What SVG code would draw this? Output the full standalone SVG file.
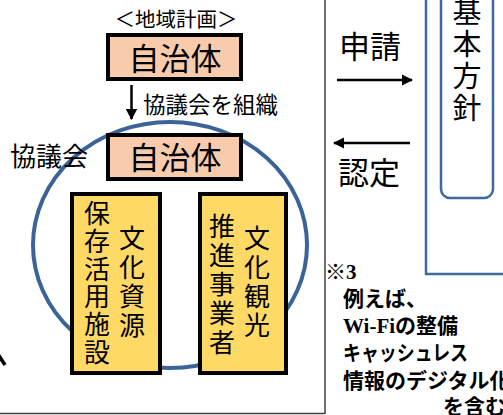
<svg xmlns="http://www.w3.org/2000/svg" width="503" height="415" viewBox="0 0 503 415">
<defs>
<marker id="ah" viewBox="0 0 10 10" refX="9" refY="5" markerWidth="4.5" markerHeight="4.5" orient="auto" markerUnits="strokeWidth">
<path d="M0,0 L10,5 L0,10 z" fill="#000"/>
</marker>
<style>
.jp{font-family:"Noto Sans CJK JP","Noto Sans",sans-serif;fill:#000}
.peach{fill:#F8CBAD;stroke:#000;stroke-width:4}
.yel{fill:#FFD966;stroke:#000;stroke-width:4}
.note{font-family:"Liberation Serif","Noto Sans CJK JP",serif;font-weight:bold;font-size:21px;fill:#000}
.conn{stroke:#000;stroke-width:2.5;fill:none}
</style>
</defs>
<rect width="503" height="415" fill="#fff"/>
<!-- panel borders -->
<line x1="325" y1="0" x2="325" y2="414" stroke="#404040" stroke-width="1.5"/>
<line x1="0" y1="413.5" x2="325" y2="413.5" stroke="#404040" stroke-width="1.5"/>
<!-- council circle -->
<g id="council">
<ellipse cx="170" cy="245" rx="137" ry="123" fill="none" stroke="#3A6397" stroke-width="4"/>
<text class="jp" x="49" y="166" font-size="26" text-anchor="middle">協議会</text>
</g>
<g id="header">
<text class="jp" x="176" y="27" font-size="20.5" text-anchor="middle">＜地域計画＞</text>
</g>
<g id="gov1">
<rect class="peach" x="108" y="35" width="133" height="44"/>
<text class="jp" x="175" y="70" font-size="31" text-anchor="middle">自治体</text>
</g>
<g id="gov2">
<rect class="peach" x="108" y="135" width="133" height="44"/>
<text class="jp" x="175" y="169" font-size="31" text-anchor="middle">自治体</text>
</g>
<g id="facility">
<rect class="yel" x="72" y="194" width="88" height="179"/>
<text class="jp" font-size="26" text-anchor="middle"><tspan x="97" y="223">保</tspan><tspan x="97" y="251">存</tspan><tspan x="97" y="279">活</tspan><tspan x="97" y="306">用</tspan><tspan x="97" y="334">施</tspan><tspan x="97" y="362">設</tspan></text>
<text class="jp" font-size="26" text-anchor="middle"><tspan x="132" y="248">文</tspan><tspan x="132" y="277">化</tspan><tspan x="132" y="306">資</tspan><tspan x="132" y="335">源</tspan></text>
</g>
<g id="operator">
<rect class="yel" x="200" y="194" width="86" height="179"/>
<text class="jp" font-size="26" text-anchor="middle"><tspan x="222" y="236">推</tspan><tspan x="222" y="265">進</tspan><tspan x="222" y="294">事</tspan><tspan x="222" y="323">業</tspan><tspan x="222" y="352">者</tspan></text>
<text class="jp" font-size="26" text-anchor="middle"><tspan x="257" y="248">文</tspan><tspan x="257" y="277">化</tspan><tspan x="257" y="306">観</tspan><tspan x="257" y="335">光</tspan></text>
</g>
<g id="policy">
<rect x="426" y="-10" width="90" height="284" fill="none" stroke="#3F6A9C" stroke-width="2.5"/>
<rect x="441" y="-20" width="52" height="218" rx="9" fill="none" stroke="#3F6A9C" stroke-width="2.5"/>
<text class="jp" font-size="29" text-anchor="middle"><tspan x="467" y="23">基</tspan><tspan x="467" y="55">本</tspan><tspan x="467" y="87">方</tspan><tspan x="467" y="119">針</tspan></text>
</g>
<g id="connectors">
<line class="conn" x1="131.5" y1="85" x2="131.5" y2="119" marker-end="url(#ah)"/>
<text class="jp" x="143" y="113" font-size="22.5">協議会を組織</text>
<line class="conn" x1="337" y1="80" x2="412" y2="80" marker-end="url(#ah)"/>
<text class="jp" x="370" y="58" font-size="31" text-anchor="middle">申請</text>
<line class="conn" x1="410" y1="143" x2="334" y2="143" marker-end="url(#ah)"/>
<text class="jp" x="369" y="184" font-size="31" text-anchor="middle">認定</text>
<line x1="-2" y1="354" x2="5" y2="365" stroke="#000" stroke-width="3.5"/>
</g>
<g id="note">
<text class="note" x="325" y="279">※3</text>
<text class="note" x="343" y="306">例えば、</text>
<text class="note" x="343" y="333">Wi-Fiの整備</text>
<text class="note" x="343" y="360" textLength="125" lengthAdjust="spacingAndGlyphs">キャッシュレス</text>
<text class="note" x="343" y="388">情報のデジタル化</text>
<text class="note" x="443" y="414">を含む</text>
</g>
</svg>
